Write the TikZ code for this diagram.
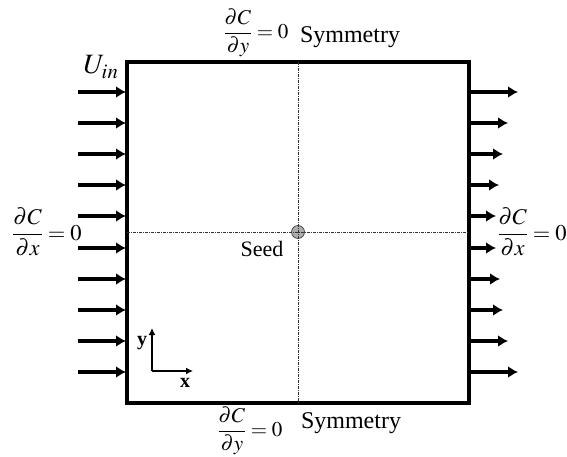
\documentclass[tikz,border=0pt]{standalone}
\usepackage{mathptmx}
\usepackage{fontspec}
\setmainfont{Liberation Serif}
\usepackage{tikz}
\usetikzlibrary{positioning,arrows.meta,calc}

\begin{document}
\begin{tikzpicture}[
    x=1pt, y=-1pt,
    >={Latex[length=10pt,width=12pt]},
    wall/.style={line width=3.4pt, line join=miter},
    inflow arrow/.style={->, line width=3.4pt},
    outflow arrow/.style={->, line width=3.4pt},
    sym line/.style={gray!40!black, line width=0.8pt, dash pattern=on 3pt off 1pt on 1pt off 1pt},
    axis arrow/.style={-{Latex[length=7pt,width=7pt]}, line width=2pt},
    bc label/.style={font=\fontsize{21}{24}\selectfont, inner sep=0pt},
    side bc label/.style={font=\fontsize{22.5}{26}\selectfont, inner sep=0pt},
    sym label/.style={font=\fontsize{24}{26}\selectfont, inner sep=0pt, anchor=base},
    seed dot/.style={circle, fill=gray!65, draw=gray!40!black, line width=0.6pt, minimum size=13pt, inner sep=0pt}
]
    \useasboundingbox (0,0) rectangle (567,457);

    % computational domain
    \coordinate (nw) at (127,62);
    \coordinate (se) at (469,403);
    \draw[wall] (nw) rectangle (se);

    % symmetry lines through the seed
    \node[seed dot] (seed) at (298,232) {};
    \coordinate (mid-w) at (127,232);
    \coordinate (mid-e) at (469,232);
    \coordinate (mid-n) at (298,62);
    \coordinate (mid-s) at (298,403);
    \draw[sym line] (mid-w) -- (mid-e);
    \draw[sym line] (mid-n) -- (mid-s);
    \node[font=\fontsize{22}{24}\selectfont, inner sep=0pt] (seed-lab) at (262,249) {Seed};

    % inflow and outflow profiles
    \foreach \i/\y/\tip in {1/92/518, 2/123/508, 3/154/503, 4/185/499, 5/216/496,
                            6/248/496, 7/279/500, 8/310/503, 9/341/508, 10/372/518} {
      \coordinate (in-\i) at (78,\y);
      \coordinate (wall-in-\i) at (126,\y);
      \coordinate (wall-out-\i) at (469,\y);
      \coordinate (out-\i) at (\tip,\y);
      \draw[inflow arrow] (in-\i) -- (wall-in-\i);
      \draw[outflow arrow] (wall-out-\i) -- (out-\i);
    }
    \node[font=\fontsize{28}{30}\selectfont, inner sep=0pt] (u-in) at (101,67) {$U_{in}$};

    % boundary conditions
    \node[bc label] (top-bc) at (256,33) {$\displaystyle\frac{\partial C}{\partial y}=0$};
    \node[sym label] (top-sym) at (350,43) {Symmetry};
    \node[bc label] (bot-bc) at (250,431) {$\displaystyle\frac{\partial C}{\partial y}=0$};
    \node[sym label] (bot-sym) at (351,428) {Symmetry};
    \node[side bc label] (left-bc) at (47,232) {$\displaystyle\frac{\partial C}{\partial x}=0$};
    \node[side bc label] (right-bc) at (532,232) {$\displaystyle\frac{\partial C}{\partial x}=0$};

    % axes
    \coordinate (orig) at (152,371);
    \coordinate (ax-y) at (152,328);
    \coordinate (ax-x) at (193,371);
    \draw[axis arrow] (orig) -- (ax-y);
    \draw[axis arrow] (orig) -- (ax-x);
    \node[font=\fontsize{20}{22}\selectfont\bfseries, inner sep=0pt] (y-lab) at (142,343) {y};
    \node[font=\fontsize{20}{22}\selectfont\bfseries, inner sep=0pt] (x-lab) at (185,383) {x};
\end{tikzpicture}
\end{document}
